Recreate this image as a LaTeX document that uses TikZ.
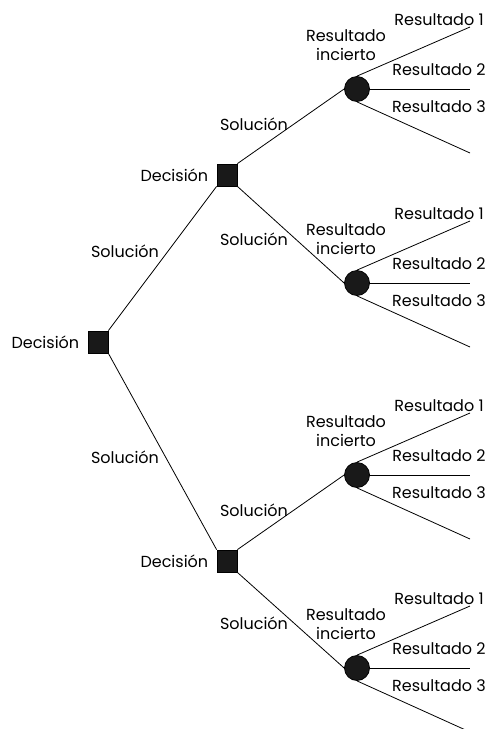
\documentclass[tikz,border=0pt]{standalone}
\usepackage{fontspec}
\setmainfont{Poppins}
\usetikzlibrary{positioning}

\begin{document}
\begin{tikzpicture}[x=1pt, y=-1pt,
    dec/.style={draw, fill=black!90, minimum width=20pt, minimum height=22pt, inner sep=0pt},
    chance/.style={circle, draw, fill=black!90, minimum size=25pt, inner sep=0pt},
    lbl/.style={font=\fontsize{16}{19}\selectfont, inner sep=0pt},
    every path/.style={line width=0.8pt}]
    \useasboundingbox (0,0) rectangle (489,729);

    % decision squares
    \node[dec] (d0) at (98,342) {};
    \node[dec] (d1) at (227,175) {};
    \node[dec] (d2) at (227,561) {};
    \node[lbl, left=8pt of d0] (d0l) {Decisión};
    \node[lbl, left=8pt of d1] (d1l) {Decisión};
    \node[lbl, left=8pt of d2] (d2l) {Decisión};

    % chance circles
    \node[chance] (c1) at (357,89) {};
    \node[chance] (c2) at (357,283) {};
    \node[chance] (c3) at (357,475) {};
    \node[chance] (c4) at (357,668) {};

    % draw the branches
    \draw (d0.north east) -- (d1.south west);
    \draw (d0.south east) -- (d2.north west);
    \draw (d1.north east) -- (c1.west);
    \draw (d1.south east) -- (c2.west);
    \draw (d2.north east) -- (c3.west);
    \draw (d2.south east) -- (c4.west);

    \node[lbl] (s1) at (125,251) {Solución};
    \node[lbl] (s2) at (125,457) {Solución};
    \node[lbl] (s3) at (254,124) {Solución};
    \node[lbl] (s4) at (254,239) {Solución};
    \node[lbl] (s5) at (254,510) {Solución};
    \node[lbl] (s6) at (254,623) {Solución};

    % draw the outcomes
    \foreach \c/\y in {c1/89, c2/283, c3/475, c4/668} {
        \coordinate (\c a) at (470,\y-62);
        \coordinate (\c b) at (470,\y);
        \coordinate (\c c) at (470,\y+64);
        \draw (\c.north) -- (\c a);
        \draw (\c.east) -- (\c b);
        \draw (\c.south) -- (\c c);
        \node[lbl, align=center] (\c i) at (346,\y-44) {Resultado\\incierto};
        \node[lbl] (\c r1) at (439,\y-69) {Resultado 1};
        \node[lbl] (\c r2) at (439,\y-19) {Resultado 2};
        \node[lbl] (\c r3) at (439,\y+18) {Resultado 3};
    }
\end{tikzpicture}
\end{document}
